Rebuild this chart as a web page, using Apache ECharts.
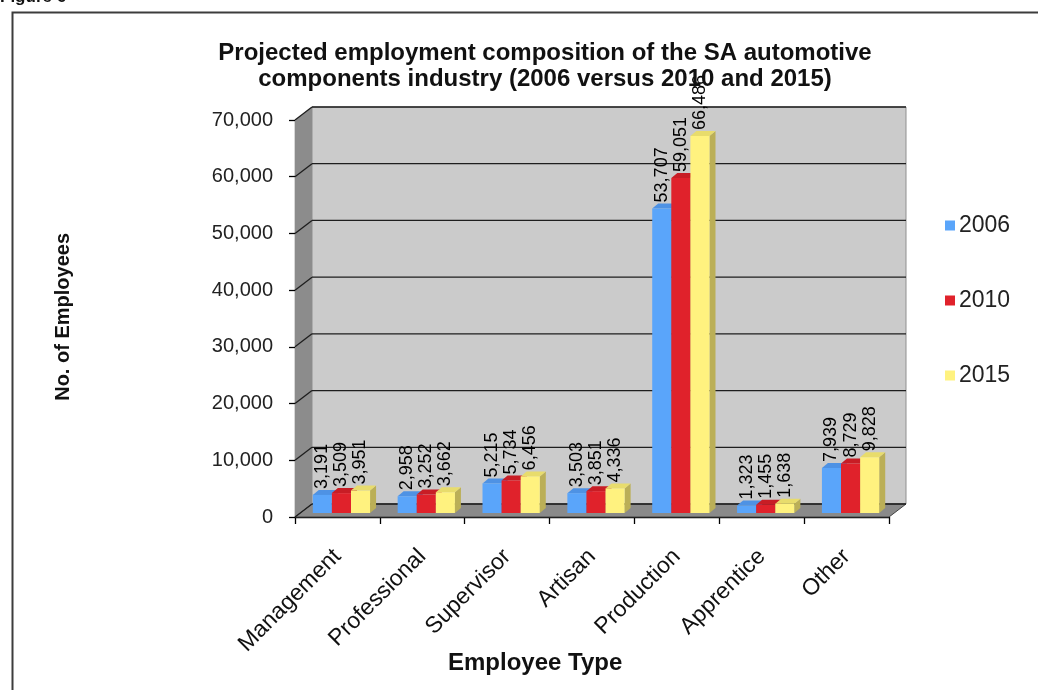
<!DOCTYPE html>
<html>
<head>
<meta charset="utf-8">
<script src="https://cdn.jsdelivr.net/npm/echarts@6/dist/echarts.min.js"></script>
<style>
  html, body { margin: 0; padding: 0; background: #ffffff; }
  #chart { width: 1038px; height: 690px; }
</style>
</head>
<body>
<div id="chart"></div>
<script>
// Employee categories and projected headcounts per year
const categories = ['Management', 'Professional', 'Supervisor', 'Artisan', 'Production', 'Apprentice', 'Other'];
const seriesNames = ['2006', '2010', '2015'];
const values2006 = [3191, 2958, 5215, 3503, 53707, 1323, 7939];
const values2010 = [3509, 3252, 5734, 3851, 59051, 1455, 8729];
const values2015 = [3951, 3662, 6456, 4336, 66486, 1638, 9828];
const yTicks = [0, 10000, 20000, 30000, 40000, 50000, 60000, 70000];

const FONT = "'Liberation Sans', Arial, sans-serif";

// Pseudo-3D box: back wall offset from the front plane
const WALL_DX = 17, WALL_DY = -13;
// Bars stand a little behind the front plane and have a small depth
const BAR_DX = 4, BAR_DY = -4;
const DEPTH_X = 6, DEPTH_Y = -5;
const BAR_FRACTION = 0.225;

const palette = [
  { front: '#5AA5FA', top: '#4E92E4', side: '#3C78C4' },
  { front: '#E0222B', top: '#C81D25', side: '#A3151B' },
  { front: '#FFF27F', top: '#E8DC6C', side: '#BBAF57' }
];

const fmt = v => Number(v).toLocaleString('en-US');

function renderWalls(params, api) {
  const cs = params.coordSys;
  const x0 = cs.x, x1 = cs.x + cs.width, yt = cs.y, yb = cs.y + cs.height;
  return {
    type: 'group',
    children: [
      { type: 'rect', shape: { x: x0 + WALL_DX, y: yt + WALL_DY, width: cs.width, height: cs.height },
        style: { fill: '#CBCBCB', stroke: '#8f8f8f', lineWidth: 1 } },
      { type: 'polygon', shape: { points: [[x0, yb], [x0, yt], [x0 + WALL_DX, yt + WALL_DY], [x0 + WALL_DX, yb + WALL_DY]] },
        style: { fill: '#8C8C8C' } },
      { type: 'polygon', shape: { points: [[x0, yb], [x1, yb], [x1 + WALL_DX, yb + WALL_DY], [x0 + WALL_DX, yb + WALL_DY]] },
        style: { fill: '#8A8A8A', stroke: '#444', lineWidth: 1 } }
    ]
  };
}

function renderGridLine(params, api) {
  const cs = params.coordSys;
  const y = api.coord([0, api.value(1)])[1];
  const x0 = cs.x, x1 = cs.x + cs.width;
  return {
    type: 'group',
    children: [
      { type: 'line', shape: { x1: x0, y1: y, x2: x0 + WALL_DX, y2: y + WALL_DY },
        style: { stroke: '#1e1e1e', lineWidth: 1.3 } },
      { type: 'line', shape: { x1: x0 + WALL_DX, y1: y + WALL_DY, x2: x1 + WALL_DX, y2: y + WALL_DY },
        style: { stroke: '#1e1e1e', lineWidth: 1.3 } }
    ]
  };
}

function makeBarRenderer(index) {
  const col = palette[index];
  return function (params, api) {
    const cat = api.value(0), val = api.value(1);
    const top = api.coord([cat, val]);
    const base = api.coord([cat, 0]);
    const band = api.size([1, 0])[0];
    const bw = band * BAR_FRACTION;
    const left = top[0] - 1.5 * bw + index * bw + BAR_DX;
    const yt = top[1] + BAR_DY;
    const yb = base[1] + BAR_DY;
    return {
      type: 'group',
      children: [
        { type: 'polygon', shape: { points: [[left + bw, yt], [left + bw + DEPTH_X, yt + DEPTH_Y], [left + bw + DEPTH_X, yb + DEPTH_Y], [left + bw, yb]] },
          style: { fill: col.side } },
        { type: 'polygon', shape: { points: [[left, yt], [left + bw, yt], [left + bw + DEPTH_X, yt + DEPTH_Y], [left + DEPTH_X, yt + DEPTH_Y]] },
          style: { fill: col.top } },
        { type: 'rect', shape: { x: left, y: yt, width: bw, height: yb - yt },
          style: { fill: col.front } },
        { type: 'text', x: left + bw / 2, y: yt + DEPTH_Y - 1, rotation: Math.PI / 2, z2: 100,
          style: { text: fmt(val), align: 'left', verticalAlign: 'middle', fill: '#000', font: '18px ' + FONT } }
      ]
    };
  };
}

const seriesValues = [values2006, values2010, values2015];

const chart = echarts.init(document.getElementById('chart'), null, { renderer: 'canvas' });

chart.setOption({
  animation: false,
  backgroundColor: '#ffffff',
  textStyle: { fontFamily: FONT },
  title: {
    text: 'Projected employment composition of the SA automotive\ncomponents industry (2006 versus 2010 and 2015)',
    left: 540,
    top: 35,
    textAlign: 'center',
    textStyle: { fontFamily: FONT, fontSize: 24, fontWeight: 'bold', color: '#111', lineHeight: 26 }
  },
  legend: {
    data: seriesNames,
    orient: 'vertical',
    left: 940,
    top: 209,
    itemWidth: 10,
    itemHeight: 10,
    itemGap: 52,
    icon: 'rect',
    textStyle: { fontFamily: FONT, fontSize: 23, color: '#222', padding: [0, 0, 0, -1] }
  },
  grid: { left: 295, top: 120, width: 594, height: 397, containLabel: false },
  xAxis: {
    type: 'category',
    data: categories,
    axisLine: { lineStyle: { color: '#000', width: 1.3 } },
    axisTick: { show: true, interval: 0, length: 7, lineStyle: { color: '#000', width: 1.3 } },
    axisLabel: { rotate: 45, interval: 0, margin: 36, fontSize: 23, color: '#111', fontFamily: FONT },
    splitLine: { show: false }
  },
  yAxis: {
    type: 'value',
    min: 0,
    max: 70000,
    interval: 10000,
    axisLine: { show: true, lineStyle: { color: '#000', width: 1.3 } },
    axisTick: { show: true, length: 6, lineStyle: { color: '#000', width: 1.3 } },
    axisLabel: { formatter: v => fmt(v), fontSize: 20, margin: 22, color: '#222', fontFamily: FONT },
    splitLine: { show: false }
  },
  graphic: [
    { type: 'rect', left: 10, top: 10, shape: { width: 1040, height: 690 },
      style: { fill: 'none', stroke: '#3c3c3c', lineWidth: 2 }, z: 100 },
    { type: 'text', left: 0, top: -11, z: 100,
      style: { text: 'Figure 6', font: 'bold 17px ' + FONT, fill: '#111' } },
    { type: 'text', left: 53, top: 233, z: 100, rotation: Math.PI / 2,
      style: { text: 'No. of Employees', font: 'bold 20px ' + FONT, fill: '#111' } },
    { type: 'text', left: 448, top: 651, z: 100,
      style: { text: 'Employee Type', font: 'bold 24px ' + FONT, fill: '#111' } }
  ],
  series: [
    { type: 'custom', name: 'walls', silent: true, z: 1, renderItem: renderWalls,
      data: [[0, 0]], encode: { x: 0, y: 1 } },
    { type: 'custom', name: 'gridlines', silent: true, z: 2, renderItem: renderGridLine,
      data: yTicks.map(v => [0, v]), encode: { x: 0, y: 1 } }
  ].concat(seriesNames.map((name, i) => ({
    type: 'custom',
    name: name,
    z: 3,
    itemStyle: { color: palette[i].front },
    renderItem: makeBarRenderer(i),
    encode: { x: 0, y: 1 },
    data: seriesValues[i].map((v, c) => [c, v])
  })))
});
</script>
</body>
</html>
